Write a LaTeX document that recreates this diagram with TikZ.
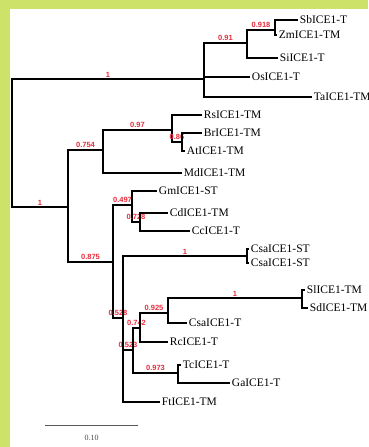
\documentclass[tikz,border=0pt]{standalone}
\usepackage{fontspec}
\setmainfont{Liberation Serif}
\newfontfamily\suppfont{Liberation Sans}
\definecolor{framegreen}{RGB}{204,226,104}
\definecolor{suppred}{RGB}{232,44,60}

\begin{document}
\begin{tikzpicture}[x=1pt, y=-1pt, line width=1.9pt,
	leaf/.style={anchor=west, inner sep=1pt, font=\fontsize{11.5}{13}\selectfont},
	supp/.style={above, inner sep=1pt, text=suppred, font=\suppfont\bfseries\fontsize{7.5}{8}\selectfont}]
	\useasboundingbox (0,0) rectangle (368,447);
	\fill[framegreen] (0,0) rectangle (368,447);
	\fill[white] (10,9) rectangle (368,447);
	% internal nodes
	\coordinate (root) at (12,143);
	\coordinate (poa) at (204,79);
	\coordinate (n91) at (247,43);
	\coordinate (n918) at (275,30);
	\coordinate (dicot) at (68,207);
	\coordinate (n754) at (103,150);
	\coordinate (n97) at (172,130);
	\coordinate (bras) at (182,142);
	\coordinate (n875) at (113,262);
	\coordinate (n497) at (132,205);
	\coordinate (cit) at (140,222);
	\coordinate (rest) at (123,318);
	\coordinate (cuc) at (247,256);
	\coordinate (core) at (133,350);
	\coordinate (sub) at (140,328);
	\coordinate (n925) at (168,313);
	\coordinate (sol) at (302,298);
	\coordinate (n973) at (178,373);
	% leaves
	\node[leaf] (sb) at (298,20) {SbICE1-T};
	\node[leaf] (zm) at (277,35) {ZmICE1-TM};
	\node[leaf] (si) at (278,58) {SiICE1-T};
	\node[leaf] (os) at (250,77) {OsICE1-T};
	\node[leaf] (ta) at (312,97) {TaICE1-TM};
	\node[leaf] (rs) at (202,115) {RsICE1-TM};
	\node[leaf] (br) at (202,133) {BrICE1-TM};
	\node[leaf] (at) at (185,151) {AtICE1-TM};
	\node[leaf] (md) at (182,173) {MdICE1-TM};
	\node[leaf] (gm) at (157,191) {GmICE1-ST};
	\node[leaf] (cd) at (168,213) {CdICE1-TM};
	\node[leaf] (cc) at (190,231) {CcICE1-T};
	\node[leaf] (csa1) at (249,249) {CsaICE1-ST};
	\node[leaf] (csa2) at (249,263) {CsaICE1-ST};
	\node[leaf] (sl) at (305,290) {SlICE1-TM};
	\node[leaf] (sd) at (308,308) {SdICE1-TM};
	\node[leaf] (csat) at (187,323) {CsaICE1-T};
	\node[leaf] (rc) at (168,342) {RcICE1-T};
	\node[leaf] (tc) at (181,365) {TcICE1-T};
	\node[leaf] (ga) at (230,383) {GaICE1-T};
	\node[leaf] (ft) at (160,402) {FtICE1-TM};
	% branches
	\draw (root) |- (poa) node[supp, pos=.75] {1};
	\draw (root) |- (dicot) node[supp, pos=.75] {1};
	\draw (poa) |- (n91) node[supp, pos=.75] {0.91};
	\draw (poa) |- (os.west);
	\draw (poa) |- (ta.west);
	\draw (n91) |- (n918) node[supp, pos=.75] {0.918};
	\draw (n91) |- (si.west);
	\draw (n918) |- (sb.west);
	\draw (n918) |- (zm.west);
	\draw (dicot) |- (n754) node[supp, pos=.75] {0.754};
	\draw (dicot) |- (n875) node[supp, pos=.75] {0.875};
	\draw (n754) |- (n97) node[supp, pos=.75] {0.97};
	\draw (n754) |- (md.west);
	\draw (n97) |- (rs.west);
	\draw (n97) |- (bras) node[supp, pos=.75] {0.86};
	\draw (bras) |- (br.west);
	\draw (bras) |- (at.west);
	\draw (n875) |- (n497) node[supp, pos=.75] {0.497};
	\draw (n875) |- (rest) node[supp, pos=.75] {0.528};
	\draw (n497) |- (gm.west);
	\draw (n497) |- (cit) node[supp, pos=.75] {0.728};
	\draw (cit) |- (cd.west);
	\draw (cit) |- (cc.west);
	\draw (rest) |- (cuc) node[supp, pos=.75] {1};
	\draw (rest) |- (core) node[supp, pos=.75] {0.523};
	\draw (rest) |- (ft.west);
	\draw (cuc) |- (csa1.west);
	\draw (cuc) |- (csa2.west);
	\draw (core) |- (sub) node[supp, pos=.75] {0.742};
	\draw (core) |- (n973) node[supp, pos=.75] {0.973};
	\draw (sub) |- (n925) node[supp, pos=.75] {0.925};
	\draw (sub) |- (rc.west);
	\draw (n925) |- (sol) node[supp, pos=.75] {1};
	\draw (n925) |- (csat.west);
	\draw (sol) |- (sl.west);
	\draw (sol) |- (sd.west);
	\draw (n973) |- (tc.west);
	\draw (n973) |- (ga.west);
	% scale bar
	\coordinate (bar1) at (45,425);
	\coordinate (bar2) at (138,425);
	\draw[gray!70!black, line width=1pt] (bar1) -- (bar2) node[midway, below=6pt, text=gray!60!black, font=\fontsize{8}{9}\selectfont] (barlabel) {0.10};
\end{tikzpicture}
\end{document}
